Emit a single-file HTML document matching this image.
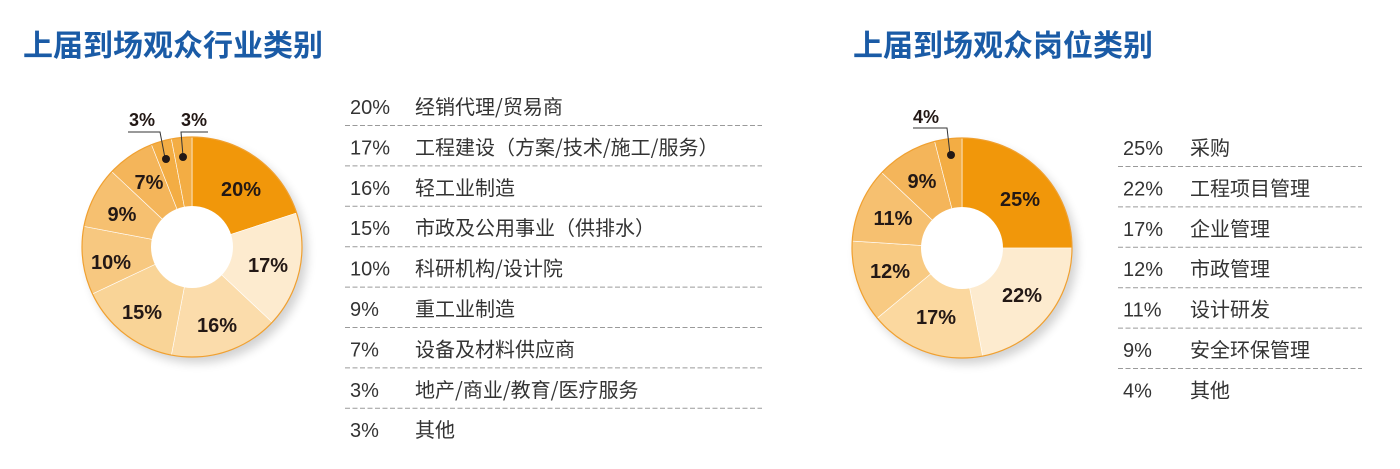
<!DOCTYPE html>
<html><head><meta charset="utf-8"><style>
body{margin:0;width:1400px;height:464px;background:#fff;overflow:hidden;font-family:"Liberation Sans","Noto Sans CJK SC",sans-serif}
</style></head><body>
<svg width="1400" height="464" xmlns="http://www.w3.org/2000/svg" id="s">
<defs><filter id="sh" x="-20%" y="-20%" width="150%" height="150%"><feGaussianBlur stdDeviation="5"/></filter></defs>
<g font-family="'Noto Sans CJK SC',sans-serif">
<text x="23" y="56" font-size="30" font-weight="bold" fill="#1a5ba6">上届到场观众行业类别</text>
<text x="853" y="56" font-size="30" font-weight="bold" fill="#1a5ba6">上届到场观众岗位类别</text>
</g>
<g id="d1"></g><g id="d2"></g>
<g id="l1" font-size="20" fill="#333"></g>
<g id="l2" font-size="20" fill="#333"></g>
</svg>
<script>
var NS="http://www.w3.org/2000/svg";
function el(p,t,a,txt){var e=document.createElementNS(NS,t);for(var k in a)e.setAttribute(k,a[k]);if(txt)e.textContent=txt;p.appendChild(e);return e;}
function donut(g,cx,cy,R,r,vals,cols){
 el(g,'circle',{cx:cx+5,cy:cy+6,r:R,fill:'#000',opacity:0.18,filter:'url(#sh)'});
 var a=0;
 vals.forEach(function(v,i){
  var a0=a/100*2*Math.PI,a1=(a+v)/100*2*Math.PI;a+=v;
  var x0=cx+R*Math.sin(a0),y0=cy-R*Math.cos(a0),x1=cx+R*Math.sin(a1),y1=cy-R*Math.cos(a1);
  var lg=v>50?1:0;
  el(g,'path',{d:'M'+cx+' '+cy+' L'+x0+' '+y0+' A'+R+' '+R+' 0 '+lg+' 1 '+x1+' '+y1+' Z',fill:cols[i],stroke:'#fff','stroke-width':0.6});
 });
 el(g,'circle',{cx:cx,cy:cy,r:R,fill:'none',stroke:'#f0a030','stroke-width':1.2});
 el(g,'circle',{cx:cx,cy:cy,r:r,fill:'#fff'});
}
var d1=document.getElementById('d1'),d2=document.getElementById('d2');
donut(d1,192,247,110,41,[20,17,16,15,10,9,7,3,3],['#f1970a','#fdebcf','#fbdcab','#f9d497','#f7c880','#f6c070','#f4b55a','#f3ad44','#f3ad44']);
donut(d2,962,248,110,41,[25,22,17,12,11,9,4],['#f1970a','#fdebcf','#fbd89f','#f8ca82','#f6c070','#f4b55a','#f3ad44']);
function lab(g,x,y,t,s){el(g,'text',{x:x,y:y,'font-size':s||20,'font-weight':'bold',fill:'#231815','text-anchor':'middle','dominant-baseline':'central'},t);}
[[241,190,'20%'],[268,266,'17%'],[217,326,'16%'],[142,313,'15%'],[111,263,'10%'],[122,215,'9%'],[149,183,'7%']].forEach(function(p){lab(d1,p[0],p[1],p[2]);});
[[1020,200,'25%'],[1022,296,'22%'],[936,318,'17%'],[890,272,'12%'],[893,219,'11%'],[922,182,'9%']].forEach(function(p){lab(d2,p[0],p[1],p[2]);});
lab(d1,142,120,'3%',18);lab(d1,194,120,'3%',18);lab(d2,926,117,'4%',18);
el(d1,'polyline',{points:'128,132 160,132 165,158',fill:'none',stroke:'#333','stroke-width':1});
el(d1,'polyline',{points:'208,132 181,132 183,156',fill:'none',stroke:'#333','stroke-width':1});
el(d1,'circle',{cx:166,cy:159,r:4,fill:'#231815'});el(d1,'circle',{cx:183,cy:157,r:4,fill:'#231815'});
el(d2,'polyline',{points:'913,128 947,128 950,154',fill:'none',stroke:'#333','stroke-width':1});
el(d2,'circle',{cx:951,cy:155,r:4,fill:'#231815'});
function list(g,x0,x1,tx,y0,items){
 items.forEach(function(it,i){
  var y=y0+i*40.4;
  el(g,'text',{x:x0+5,y:y+7},it[0]);
  el(g,'text',{x:tx,y:y+7,'font-family':"'Noto Sans CJK SC',sans-serif",'font-size':20},it[1]);
  if(i<items.length-1)el(g,'line',{x1:x0,x2:x1,y1:y+18.5,y2:y+18.5,stroke:'#9a9a9a','stroke-width':1,'stroke-dasharray':'5 2.5'});
 });
}
list(document.getElementById('l1'),345,762,415,107,[['20%','经销代理/贸易商'],['17%','工程建设（方案/技术/施工/服务）'],['16%','轻工业制造'],['15%','市政及公用事业（供排水）'],['10%','科研机构/设计院'],['9%','重工业制造'],['7%','设备及材料供应商'],['3%','地产/商业/教育/医疗服务'],['3%','其他']]);
list(document.getElementById('l2'),1118,1362,1190,148,[['25%','采购'],['22%','工程项目管理'],['17%','企业管理'],['12%','市政管理'],['11%','设计研发'],['9%','安全环保管理'],['4%','其他']]);
</script>
</body></html>
